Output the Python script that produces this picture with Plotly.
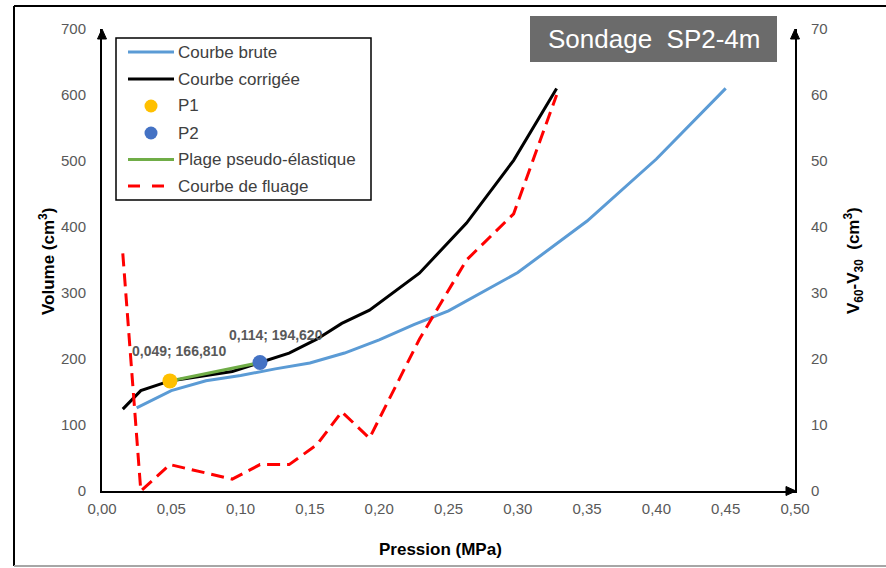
import plotly.graph_objects as go

# Pressuremeter test SP2 at 4 m
pression_brute = [0.025, 0.05, 0.075, 0.10, 0.125, 0.15, 0.175, 0.20, 0.225, 0.25, 0.30, 0.35, 0.40, 0.45]
volume_brute = [126, 152, 167, 175, 185, 194, 209, 229, 252, 273, 331, 409, 503, 610]

pression_corr = [0.015, 0.028, 0.049, 0.094, 0.114, 0.135, 0.155, 0.173, 0.193, 0.229, 0.263, 0.297, 0.328]
volume_corr = [124, 152, 166.81, 181, 194.62, 209, 230, 254, 274, 330, 406, 501, 610]
fluage = [36, 0, 4, 1.8, 4, 4, 7, 12, 8, 23, 35, 42, 60]

p1 = (0.049, 166.810)
p2 = (0.114, 194.620)

x_ticks = [0.00, 0.05, 0.10, 0.15, 0.20, 0.25, 0.30, 0.35, 0.40, 0.45, 0.50]
y_ticks = [0, 100, 200, 300, 400, 500, 600, 700]
y2_ticks = [0, 10, 20, 30, 40, 50, 60, 70]

W, H = 886, 568
L, R, T, B = 102, 795, 29, 491


def fx(px):
    return (px - L) / (R - L)


def fy(py):
    return (B - py) / (B - T)


BLUE = "#5b9bd5"
BLACK = "#000000"
YELLOW = "#ffc000"
DBLUE = "#4472c4"
GREEN = "#70ad47"
RED = "#ff0000"
DASH = "13px,7px"
FONT = "Liberation Sans, Arial, sans-serif"

fig = go.Figure()
fig.add_trace(go.Scatter(x=pression_brute, y=volume_brute, mode="lines",
                         line=dict(color=BLUE, width=3), name="Courbe brute"))
fig.add_trace(go.Scatter(x=pression_corr, y=volume_corr, mode="lines",
                         line=dict(color=BLACK, width=3), name="Courbe corrigée"))
fig.add_trace(go.Scatter(x=[p1[0], p2[0]], y=[p1[1], p2[1]], mode="lines",
                         line=dict(color=GREEN, width=3), name="Plage pseudo-élastique"))
fig.add_trace(go.Scatter(x=[p1[0]], y=[p1[1]], mode="markers",
                         marker=dict(color=YELLOW, size=15), name="P1"))
fig.add_trace(go.Scatter(x=[p2[0]], y=[p2[1]], mode="markers",
                         marker=dict(color=DBLUE, size=15), name="P2"))
fig.add_trace(go.Scatter(x=pression_corr, y=fluage, mode="lines", yaxis="y2",
                         line=dict(color=RED, width=3, dash=DASH), name="Courbe de fluage"))


def fmt(v, d):
    return f"{v:.{d}f}".replace(".", ",")


annotations = []
for (px_, py_), xs, ys in [(p1, 9, 30), (p2, 16, 28)]:
    annotations.append(dict(x=px_, y=py_, xref="x", yref="y", showarrow=False,
                            xanchor="center", yanchor="middle",
                            text=f"<b>{fmt(px_, 3)}; {fmt(py_, 3)}</b>",
                            xshift=xs, yshift=ys,
                            font=dict(size=14, color="#595959", family=FONT)))


def note(px, py, text, size, color, angle=0, anchor="center"):
    annotations.append(dict(x=fx(px), y=fy(py), xref="paper", yref="paper", showarrow=False,
                            xanchor=anchor, yanchor="middle", textangle=angle, text=text,
                            font=dict(size=size, color=color, family=FONT)))


shapes = []
# outer frame
shapes.append(dict(type="line", xref="paper", yref="paper", x0=fx(14), x1=fx(890), y0=fy(6), y1=fy(6),
                   line=dict(color="black", width=2)))
shapes.append(dict(type="line", xref="paper", yref="paper", x0=fx(14), x1=fx(14), y0=fy(6), y1=fy(566),
                   line=dict(color="black", width=2)))
shapes.append(dict(type="line", xref="paper", yref="paper", x0=fx(14), x1=fx(890), y0=fy(566), y1=fy(566),
                   line=dict(color="#a6a6a6", width=2)))


# axis arrowheads
def tri(p):
    pts = " L ".join(f"{fx(a):.5f} {fy(b):.5f}" for a, b in p)
    return "M " + pts + " Z"


for p in ([(102, 29), (97.5, 39), (106.5, 39)],
          [(795, 29), (790.5, 39), (799.5, 39)],
          [(796, 491), (786, 486.5), (786, 495.5)]):
    shapes.append(dict(type="path", xref="paper", yref="paper", path=tri(p),
                       fillcolor="black", line=dict(color="black", width=1)))

# title box
shapes.append(dict(type="rect", xref="paper", yref="paper", x0=fx(530), x1=fx(777), y0=fy(16), y1=fy(62),
                   fillcolor="#6b6b6b", line=dict(width=0)))
note(653.5, 39, "Sondage\u00a0 SP2-4m", 26, "white")

# legend
shapes.append(dict(type="rect", xref="paper", yref="paper", x0=fx(116), x1=fx(371), y0=fy(38), y1=fy(200),
                   fillcolor="white", line=dict(color="black", width=1.5), layer="above"))
legend_items = [
    ("Courbe brute", "line", BLUE),
    ("Courbe corrigée", "line", BLACK),
    ("P1", "dot", YELLOW),
    ("P2", "dot", DBLUE),
    ("Plage pseudo-élastique", "line", GREEN),
    ("Courbe de fluage", "dash", RED),
]
rows = [52, 79, 106, 133, 159.5, 186]
for (label, kind, col), ry in zip(legend_items, rows):
    if kind == "line":
        shapes.append(dict(type="line", xref="paper", yref="paper", x0=fx(128), x1=fx(174), y0=fy(ry), y1=fy(ry),
                           line=dict(color=col, width=3), layer="above"))
    elif kind == "dash":
        for a, b in [(128, 140), (152, 164)]:
            shapes.append(dict(type="line", xref="paper", yref="paper", x0=fx(a), x1=fx(b), y0=fy(ry), y1=fy(ry),
                               line=dict(color=col, width=3), layer="above"))
    else:
        shapes.append(dict(type="circle", xref="paper", yref="paper", x0=fx(144.5), x1=fx(157.5),
                           y0=fy(ry - 6.5), y1=fy(ry + 6.5), fillcolor=col, line=dict(width=0), layer="above"))
    note(176, ry, label, 17, "#404040", anchor="left")

# axis titles
note(440, 549, "<b>Pression (MPa)</b>", 17, "black")
note(47, 262, "<b>Volume (cm<sup>3</sup>)</b>", 17, "black", angle=-90)
note(853, 260, "<b>V<sub>60</sub>-V<sub>30</sub>\u00a0 (cm<sup>3</sup>)</b>", 17, "black", angle=-90)

tickfont = dict(size=15, color="#595959", family=FONT)
fig.update_layout(
    width=W, height=H,
    margin=dict(l=L, r=W - R, t=T, b=H - B),
    paper_bgcolor="white", plot_bgcolor="white",
    separators=", ",
    showlegend=False,
    font=dict(family=FONT),
    xaxis=dict(range=[0, 0.5], tickvals=x_ticks, tickformat=".2f", showgrid=False, zeroline=False,
               showline=True, linecolor="black", linewidth=2, ticks="", tickfont=tickfont,
               ticklabelstandoff=3),
    yaxis=dict(range=[0, 700], tickvals=y_ticks, showgrid=False, zeroline=False,
               showline=True, linecolor="black", linewidth=2, ticks="", tickfont=tickfont,
               ticklabelstandoff=11),
    yaxis2=dict(range=[0, 70], tickvals=y2_ticks, overlaying="y", side="right", showgrid=False,
                zeroline=False, showline=True, linecolor="black", linewidth=2, ticks="",
                tickfont=tickfont, ticklabelstandoff=11),
    shapes=shapes,
    annotations=annotations,
)

fig.write_html("out.html")
